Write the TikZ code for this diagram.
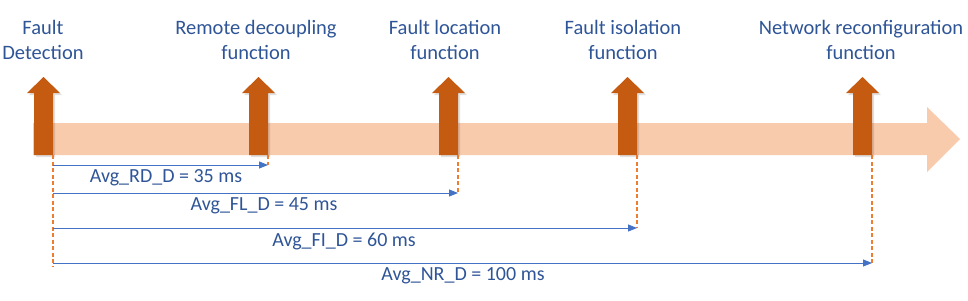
\documentclass[tikz,border=0pt]{standalone}
\usepackage{fontspec}
\setmainfont{Carlito}
\usetikzlibrary{arrows.meta}
\definecolor{bandc}{HTML}{F8CBAD}
\definecolor{darkor}{HTML}{C55A11}
\definecolor{dashor}{HTML}{ED7D31}
\definecolor{blu}{HTML}{4472C4}
\definecolor{txt}{HTML}{2F5597}
\begin{document}
\begin{tikzpicture}[x=1pt,y=-1pt,
  toplabel/.style={font=\fontsize{20.5}{25}\selectfont, text=txt, align=center, inner sep=0pt},
  durlabel/.style={font=\fontsize{20}{24}\selectfont, text=txt, inner sep=0pt},
  guide/.style={dashor, line width=1.5pt, dash pattern=on 4pt off 2.5pt},
  dur/.style={blu, line width=0.9pt, -{Triangle[length=9pt,width=7pt]}},
  evarrow/.pic={
    \fill[black, opacity=0.12] (-7.5,2) -- (-7.5,-60) -- (-14.5,-60) -- (2,-76) -- (18.5,-60) -- (11.5,-60) -- (11.5,2) -- cycle;
    \fill[darkor] (-9.5,0) -- (-9.5,-62) -- (-16.5,-62) -- (0,-78) -- (16.5,-62) -- (9.5,-62) -- (9.5,0) -- cycle;
  }]
\useasboundingbox (0,0) rectangle (968,300);

% main timeline arrow
\fill[bandc] (33,123) -- (927,123) -- (927,107) -- (960,139) -- (927,172) -- (927,155) -- (33,155) -- cycle;

% event arrows
\pic (fd) at (43.5,155) {evarrow};
\pic (rd) at (258.5,155) {evarrow};
\pic (fl) at (448.5,155) {evarrow};
\pic (fi) at (627.5,155) {evarrow};
\pic (nr) at (862.5,155) {evarrow};

% top labels
\node[toplabel] (tfd) at (43,40) {Fault\\Detection};
\node[toplabel] (trd) at (256,40) {Remote decoupling\\function};
\node[toplabel] (tfl) at (445,40) {Fault location\\function};
\node[toplabel] (tfi) at (623,40) {Fault isolation\\function};
\node[toplabel] (tnr) at (861,40) {Network reconfiguration\\function};

% guide coordinates
\coordinate (g0a) at (53,155);  \coordinate (g0b) at (53,266);
\coordinate (g1a) at (268,155); \coordinate (g1b) at (268,165);
\coordinate (g2a) at (458,155); \coordinate (g2b) at (458,193);
\coordinate (g3a) at (637,155); \coordinate (g3b) at (637,228);
\coordinate (g4a) at (872,155); \coordinate (g4b) at (872,263);

\draw[guide] (g0a) -- (g0b);
\draw[guide] (g1a) -- (g1b);
\draw[guide] (g2a) -- (g2b);
\draw[guide] (g3a) -- (g3b);
\draw[guide] (g4a) -- (g4b);

% duration arrows
\coordinate (s1) at (53,165);
\coordinate (s2) at (53,193);
\coordinate (s3) at (53,228);
\coordinate (s4) at (53,263);
\draw[dur] (s1) -- (g1b);
\draw[dur] (s2) -- (g2b);
\draw[dur] (s3) -- (g3b);
\draw[dur] (s4) -- (g4b);

% duration labels
\node[durlabel] (l1) at (166,178) {Avg\_RD\_D = 35 ms};
\node[durlabel] (l2) at (264,206) {Avg\_FL\_D = 45 ms};
\node[durlabel] (l3) at (344,241) {Avg\_FI\_D = 60 ms};
\node[durlabel] (l4) at (463,276) {Avg\_NR\_D = 100 ms};
\end{tikzpicture}
\end{document}
